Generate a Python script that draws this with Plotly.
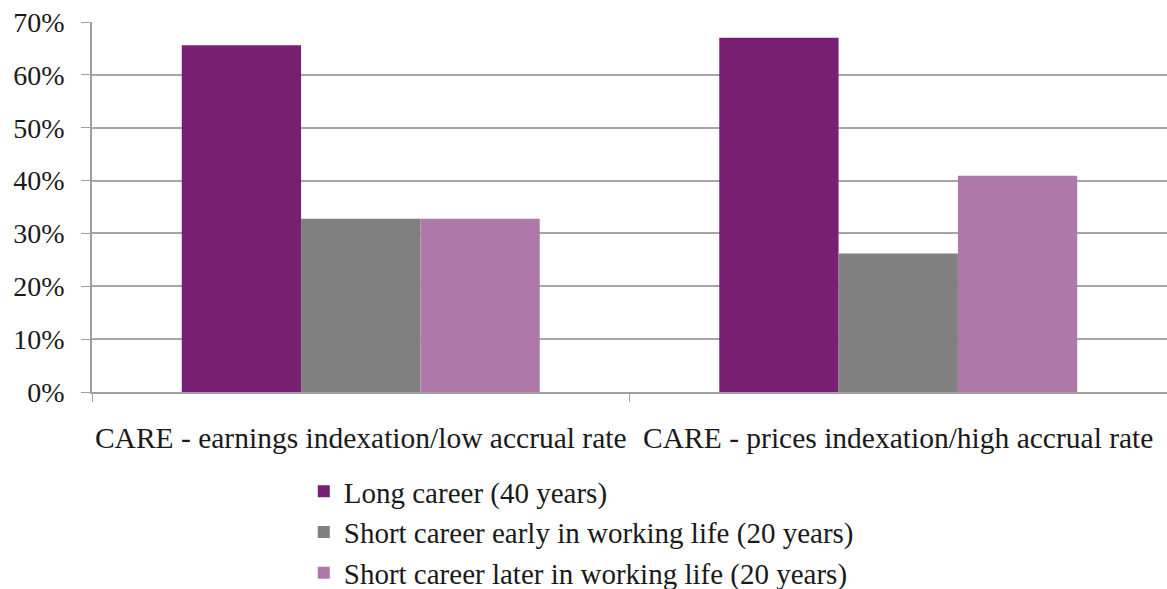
import plotly.graph_objects as go

categories = ["CARE - earnings indexation/low accrual rate",
              "CARE - prices indexation/high accrual rate"]
series_names = ["Long career (40 years)",
                "Short career early in working life (20 years)",
                "Short career later in working life (20 years)"]
long_career = [0.656, 0.670]
short_early = [0.328, 0.262]
short_later = [0.328, 0.409]
colors = ["#781F71", "#808080", "#AE78A9"]
y_ticks = [0, 0.1, 0.2, 0.3, 0.4, 0.5, 0.6, 0.7]

FONT = "Liberation Serif"
TXT = "#1a1a1a"

fig = go.Figure()
for name, vals, col in zip(series_names, [long_career, short_early, short_later], colors):
    fig.add_trace(go.Bar(x=categories, y=vals, name=name,
                         marker=dict(color=col, line=dict(width=0))))

fig.update_layout(
    width=1167, height=589,
    margin=dict(l=92, r=0, t=22, b=197, autoexpand=False),
    paper_bgcolor="white", plot_bgcolor="white",
    barmode="group", bargap=0.334, bargroupgap=0,
    font=dict(family=FONT, size=28, color=TXT),
    legend=dict(x=0.197, y=-0.2, xanchor="left", yanchor="top",
                orientation="v", font=dict(family=FONT, size=29, color=TXT),
                tracegroupgap=0, itemwidth=30, bgcolor="rgba(0,0,0,0)"),
    showlegend=True,
)
fig.update_xaxes(
    showline=True, linecolor="#A0A0A0", linewidth=1.5,
    ticks="outside", tickson="boundaries", ticklen=8, tickcolor="#A0A0A0",
    ticklabelstandoff=19, showgrid=False, tickangle=0,
    tickfont=dict(family=FONT, size=29.5, color=TXT),
)
fig.update_yaxes(
    range=[0, 0.7], tickvals=y_ticks, tickformat=".0%",
    showline=True, linecolor="#A0A0A0", linewidth=1.5,
    ticks="outside", ticklen=9, tickcolor="#A0A0A0",
    showgrid=True, gridcolor="#A6A6A6", gridwidth=1.5,
    zeroline=False, ticklabelstandoff=11,
    tickfont=dict(family=FONT, size=28, color=TXT),
)

fig.write_html("out.html",
               config={"displayModeBar": False},
               post_script="document.body.style.margin='0';document.body.style.padding='0';")
